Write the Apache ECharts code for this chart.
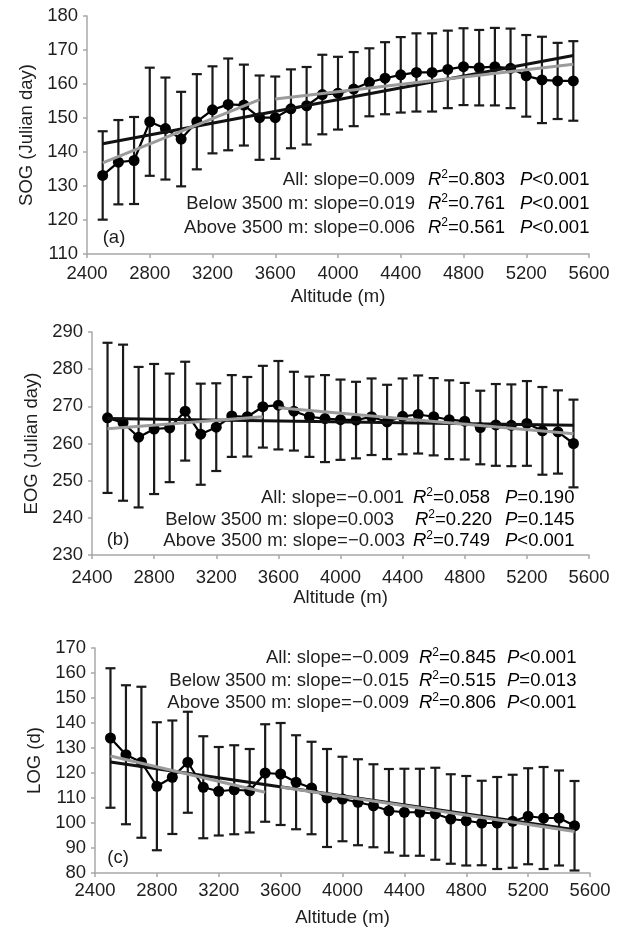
<!DOCTYPE html>
<html>
<head>
<meta charset="utf-8">
<script src="https://cdn.jsdelivr.net/npm/echarts@6/dist/echarts.min.js"></script>
<style>
  html, body { margin: 0; padding: 0; background: #fff; }
  #chart { width: 626px; height: 931px; }
</style>
</head>
<body>
<div id="chart"></div>
<script>
// altitude classes (m)
var altitude = [2500, 2600, 2700, 2800, 2900, 3000, 3100, 3200, 3300, 3400, 3500,
  3600, 3700, 3800, 3900, 4000, 4100, 4200, 4300, 4400, 4500,
  4600, 4700, 4800, 4900, 5000, 5100, 5200, 5300, 5400, 5500];

// (a) SOG
var sogMean = [133.1, 137.0, 137.5, 148.9, 146.9, 143.8, 148.9, 152.4, 154.0, 153.8, 150.1,
  150.1, 152.7, 153.6, 156.9, 157.3, 158.5, 160.5, 161.7, 162.7, 163.4,
  163.4, 164.3, 165.1, 164.8, 165.1, 164.6, 162.4, 161.2, 160.9, 160.9];
var sogSd = [13.0, 12.4, 12.8, 15.9, 15.0, 13.9, 14.0, 12.8, 13.5, 11.9, 12.4,
  12.1, 11.6, 11.4, 11.7, 10.7, 10.9, 10.0, 10.6, 11.1, 11.5,
  11.5, 11.4, 11.3, 11.1, 11.4, 11.7, 12.0, 12.7, 11.2, 11.7];
var sogFitAll = [[2500, 142.4], [5500, 168.4]];
var sogFitBelow = [[2500, 136.8], [3500, 155.4]];
var sogFitAbove = [[3600, 155.6], [5500, 165.8]];

// (b) EOG
var eogMean = [266.9, 265.6, 261.7, 263.9, 264.2, 268.7, 262.5, 264.4, 267.4, 267.2, 269.9,
  270.3, 268.7, 267.2, 266.7, 266.4, 266.3, 267.2, 265.8, 267.3, 267.8,
  267.2, 266.4, 266.0, 264.3, 265.0, 264.9, 265.4, 263.4, 263.1, 260.0];
var eogSd = [20.2, 21.0, 18.9, 17.5, 14.6, 13.3, 13.6, 11.8, 11.0, 10.7, 11.0,
  11.9, 10.6, 10.8, 11.7, 10.8, 10.3, 10.3, 10.0, 10.2, 10.5,
  10.4, 10.6, 10.3, 9.9, 11.0, 11.0, 11.4, 11.8, 11.2, 11.8];
var eogFitAll = [[2500, 266.7], [5500, 264.9]];
var eogFitBelow = [[2500, 264.0], [3500, 267.2]];
var eogFitAbove = [[3600, 269.6], [5500, 262.6]];

// (c) LOG
var logMean = [134.0, 127.3, 124.3, 114.7, 118.3, 124.3, 114.3, 112.7, 113.3, 112.9, 120.0,
  119.6, 116.3, 114.0, 110.0, 109.6, 108.3, 106.9, 104.9, 104.3, 104.3,
  103.7, 101.6, 100.9, 100.0, 100.0, 100.7, 102.7, 102.0, 102.0, 98.9];
var logSd = [27.9, 27.8, 30.2, 25.6, 22.7, 20.2, 20.4, 17.7, 17.8, 16.7, 19.5,
  20.4, 18.8, 18.5, 19.6, 16.9, 17.2, 16.6, 16.7, 17.4, 17.4,
  18.4, 17.9, 17.9, 16.9, 18.4, 18.6, 19.2, 20.4, 19.0, 17.9];
var logFitAll = [[2500, 124.4], [5500, 97.3]];
var logFitBelow = [[2500, 126.8], [3500, 112.3]];
var logFitAbove = [[3600, 114.4], [5500, 96.6]];

var xTicks = [2400, 5600, 400];
var yRanges = [[110, 180], [230, 290], [80, 170]];
var yNames = ['SOG (Julian day)', 'EOG (Julian day)', 'LOG (d)'];
var panelTags = ['(a)', '(b)', '(c)'];

// stats text: [label, R2, P]
var statsA = [['All: slope=0.009', '0.803', '<0.001'],
  ['Below 3500 m: slope=0.019', '0.761', '<0.001'],
  ['Above 3500 m: slope=0.006', '0.561', '<0.001']];
var statsB = [['All: slope=\u22120.001', '0.058', '=0.190'],
  ['Below 3500 m: slope=0.003', '0.220', '=0.145'],
  ['Above 3500 m: slope=\u22120.003', '0.749', '<0.001']];
var statsC = [['All: slope=\u22120.009', '0.845', '<0.001'],
  ['Below 3500 m: slope=\u22120.015', '0.515', '=0.013'],
  ['Above 3500 m: slope=\u22120.009', '0.806', '<0.001']];

var FONT = '"Liberation Sans", Arial, sans-serif';
var FS = 18.5;
var GRAY = '#9b9b9b';
var AXIS = '#a8a8a8';
var TXT = '#1e1e1e';

var chart = echarts.init(document.getElementById('chart'));

var grids = [
  { left: 87, right: 37, top: 16, bottom: 677 },
  { left: 92, right: 37, top: 332, bottom: 376 },
  { left: 95, right: 36, top: 648, bottom: 58 }
];
var xLabelMargin = [10, 13, 8];
var xNameGap = [33, 33, 35];

function errBars(mean, sd) {
  return altitude.map(function (a, i) {
    return [a, mean[i] - sd[i], mean[i] + sd[i]];
  });
}

function pts(mean) {
  return altitude.map(function (a, i) { return [a, mean[i]]; });
}

function renderErr(params, api) {
  var x = api.value(0);
  var lo = api.coord([x, api.value(1)]);
  var hi = api.coord([x, api.value(2)]);
  var w = 5;
  var st = { stroke: '#1a1a1a', lineWidth: 2.2 };
  return {
    type: 'group',
    children: [
      { type: 'line', shape: { x1: hi[0], y1: hi[1], x2: lo[0], y2: lo[1] }, style: st },
      { type: 'line', shape: { x1: hi[0] - w, y1: hi[1], x2: hi[0] + w, y2: hi[1] }, style: st },
      { type: 'line', shape: { x1: lo[0] - w, y1: lo[1], x2: lo[0] + w, y2: lo[1] }, style: st }
    ]
  };
}

var xAxes = [], yAxes = [], series = [];
var panels = [
  { mean: sogMean, sd: sogSd, fits: [sogFitAll, sogFitBelow, sogFitAbove] },
  { mean: eogMean, sd: eogSd, fits: [eogFitAll, eogFitBelow, eogFitAbove] },
  { mean: logMean, sd: logSd, fits: [logFitAll, logFitBelow, logFitAbove] }
];

panels.forEach(function (p, k) {
  xAxes.push({
    gridIndex: k, type: 'value', min: xTicks[0], max: xTicks[1], interval: xTicks[2],
    name: 'Altitude (m)', nameLocation: 'middle', nameGap: xNameGap[k],
    nameTextStyle: { fontFamily: FONT, fontSize: FS, color: TXT },
    axisLine: { lineStyle: { color: AXIS, width: 1.5 } },
    axisTick: { length: 4, lineStyle: { color: AXIS, width: 1.5 } },
    axisLabel: { fontFamily: FONT, fontSize: FS, color: TXT, margin: xLabelMargin[k],
      formatter: function (v) { return String(v); } },
    splitLine: { show: false }
  });
  yAxes.push({
    gridIndex: k, type: 'value', min: yRanges[k][0], max: yRanges[k][1], interval: 10,
    name: yNames[k], nameLocation: 'middle', nameGap: 50,
    nameTextStyle: { fontFamily: FONT, fontSize: FS, color: TXT },
    axisLine: { show: true, lineStyle: { color: AXIS, width: 1.5 } },
    axisTick: { show: true, length: 4, lineStyle: { color: AXIS, width: 1.5 } },
    axisLabel: { fontFamily: FONT, fontSize: FS, color: TXT, margin: 9 },
    splitLine: { show: false }
  });
  series.push({
    type: 'custom', xAxisIndex: k, yAxisIndex: k,
    renderItem: renderErr, encode: { x: 0, y: [1, 2] },
    data: errBars(p.mean, p.sd), z: 2
  });
  series.push({
    type: 'line', xAxisIndex: k, yAxisIndex: k, data: pts(p.mean),
    symbol: 'circle', symbolSize: 11, showSymbol: true,
    itemStyle: { color: '#000' }, lineStyle: { color: '#000', width: 2.2 }, z: 3
  });
  series.push({
    type: 'line', xAxisIndex: k, yAxisIndex: k, data: p.fits[0], symbol: 'none',
    lineStyle: { color: '#111', width: 3 }, z: 4
  });
  series.push({
    type: 'line', xAxisIndex: k, yAxisIndex: k, data: p.fits[1], symbol: 'none',
    lineStyle: { color: GRAY, width: 3 }, z: 5
  });
  series.push({
    type: 'line', xAxisIndex: k, yAxisIndex: k, data: p.fits[2], symbol: 'none',
    lineStyle: { color: GRAY, width: 3 }, z: 5
  });
});

var rich = {
  i: { fontFamily: FONT, fontSize: FS, fontStyle: 'italic', color: TXT },
  s: { fontFamily: FONT, fontSize: 12, color: TXT, padding: [0, 0, 10, 0] },
  n: { fontFamily: FONT, fontSize: FS, color: TXT }
};

function statLines(stats, ys, xEnd, xR, xP) {
  var out = [];
  stats.forEach(function (s, j) {
    out.push({ type: 'text', x: xEnd[j], y: ys[j],
      style: { text: s[0], font: FS + 'px ' + FONT, fill: TXT, textAlign: 'right', textVerticalAlign: 'middle' } });
    out.push({ type: 'text', x: xR[j], y: ys[j],
      style: { text: '{i|R}{s|2}{n|=' + s[1] + '}', rich: rich, textAlign: 'left', textVerticalAlign: 'middle' } });
    out.push({ type: 'text', x: xP[j], y: ys[j],
      style: { text: '{i|P}{n|' + s[2] + '}', rich: rich, textAlign: 'left', textVerticalAlign: 'middle' } });
  });
  return out;
}

var graphic = []
  .concat(statLines(statsA, [180, 204, 228], [415, 415, 415], [428, 428, 428], [520, 520, 520]))
  .concat(statLines(statsB, [498, 520, 541], [404, 394, 405], [413, 415, 413], [505, 505, 505]))
  .concat(statLines(statsC, [658, 681, 703], [409, 409, 409], [419, 419, 419], [507, 507, 507]));

[[114, 238], [118, 540], [118, 858]].forEach(function (p, k) {
  graphic.push({ type: 'text', x: p[0], y: p[1],
    style: { text: panelTags[k], font: FS + 'px ' + FONT, fill: TXT, textAlign: 'center', textVerticalAlign: 'middle' } });
});

chart.setOption({
  animation: false,
  backgroundColor: '#fff',
  grid: grids,
  xAxis: xAxes,
  yAxis: yAxes,
  series: series,
  graphic: graphic
});
</script>
</body>
</html>
